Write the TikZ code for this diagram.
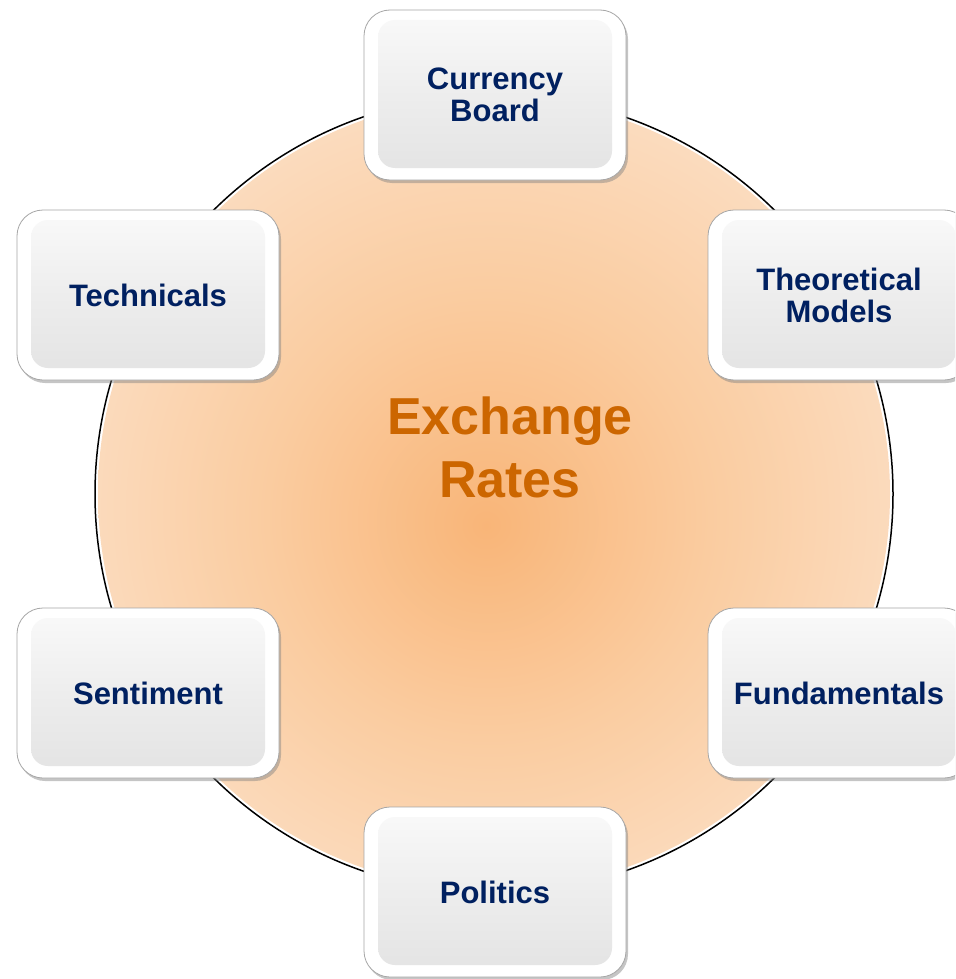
\documentclass[tikz,border=0pt]{standalone}
\usepackage{fontspec}
\setmainfont{Liberation Sans}
\usetikzlibrary{shadows}
\definecolor{navy}{RGB}{0,32,96}
\definecolor{rateorange}{RGB}{204,102,0}
\definecolor{cin}{RGB}{249,181,120}
\definecolor{cmida}{RGB}{250,204,160}
\definecolor{cmidb}{RGB}{252,227,205}
\definecolor{cout}{RGB}{252,238,227}
\pgfdeclareradialshading{exrad}{\pgfpoint{-0.5bp}{-2bp}}{color(0bp)=(cin); color(14bp)=(cmida); color(32bp)=(cmidb); color(50bp)=(cout)}
\pgfdeclareverticalshading{rimshade}{100bp}{color(0bp)=(gray!70); color(5bp)=(gray!35); color(18bp)=(white); color(100bp)=(white)}
\pgfdeclareverticalshading{faceshade}{100bp}{color(0bp)=(gray!30); color(50bp)=(gray!14); color(85bp)=(white); color(100bp)=(white)}
\tikzset{
  factorbox/.style={
    rounded corners=26pt, minimum width=262pt, minimum height=170pt,
    inner sep=0pt, draw=gray!70, line width=0.8pt, shading=rimshade,
    drop shadow={shadow xshift=2pt, shadow yshift=-3pt, opacity=0.45, fill=gray},
    align=center, font=\fontsize{31}{32}\selectfont\bfseries, text=navy,
    path picture={
      \shade[rounded corners=17pt, shading=faceshade]
        ([xshift=14pt,yshift=-10pt]path picture bounding box.north west)
        rectangle ([xshift=-14pt,yshift=12pt]path picture bounding box.south east);
    }
  },
  ringline/.style={draw=black, line width=1.5pt},
  centertext/.style={align=center, text=rateorange,
    font=\fontsize{52}{63}\selectfont\bfseries}
}
\begin{document}
\begin{tikzpicture}[x=1pt,y=-1pt]
  \useasboundingbox (0,0) rectangle (955,979);
  \fill[white] (0,0) rectangle (955,979);
  \clip (0,0) rectangle (955,979);
  \coordinate (ctr) at (494,494);
  \path[ringline] (ctr) circle[radius=399];
  \path[shading=exrad] (ctr) circle[radius=396];
  \node[centertext] (ex) at (510,447) {Exchange\\Rates};
  \node[factorbox] (cb)   at (495,95)  {Currency\\Board};
  \node[factorbox] (tm)   at (839,295) {Theoretical\\Models};
  \node[factorbox] (tech) at (148,295) {Technicals};
  \node[factorbox] (sent) at (148,693) {Sentiment};
  \node[factorbox] (fund) at (839,693) {Fundamentals};
  \node[factorbox] (pol)  at (495,892) {Politics};
\end{tikzpicture}
\end{document}
